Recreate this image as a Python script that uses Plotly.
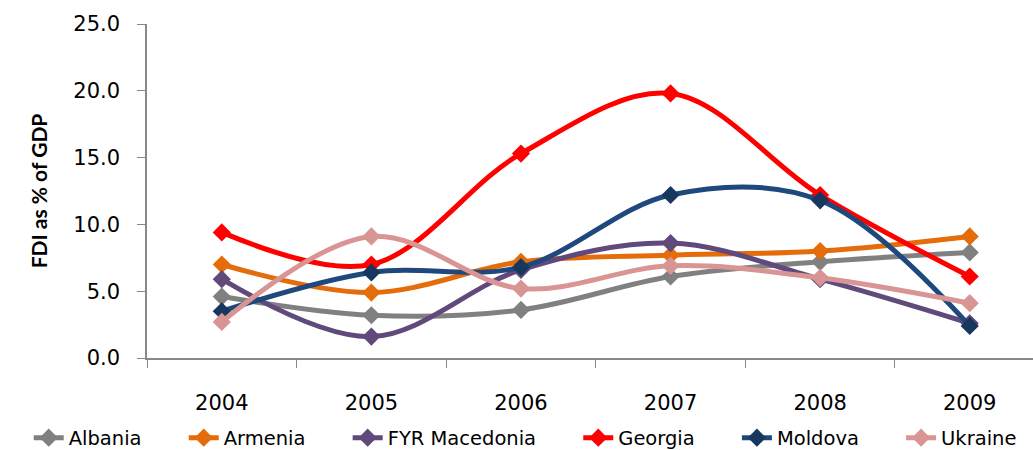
import plotly.graph_objects as go

years = ["2004", "2005", "2006", "2007", "2008", "2009"]

albania = [4.6, 3.2, 3.6, 6.1, 7.2, 7.9]
armenia = [7.0, 4.9, 7.2, 7.7, 8.0, 9.1]
macedonia = [5.9, 1.6, 6.6, 8.6, 5.9, 2.6]
georgia = [9.4, 7.0, 15.3, 19.8, 12.2, 6.1]
moldova = [3.5, 6.4, 6.8, 12.2, 11.8, 2.4]
ukraine = [2.7, 9.1, 5.2, 6.9, 6.0, 4.1]

series = [
    ("Albania", albania, "#808080", "#808080"),
    ("Armenia", armenia, "#E46C0A", "#E46C0A"),
    ("FYR Macedonia", macedonia, "#604A7B", "#604A7B"),
    ("Georgia", georgia, "#FF0000", "#FF0000"),
    ("Moldova", moldova, "#1F497D", "#17375E"),
    ("Ukraine", ukraine, "#D99594", "#D99594"),
]

TICK_FONT = "DejaVu Sans, sans-serif"
TITLE_FONT = "Lato, sans-serif"
PAD = "\u00a0" * 6  # spacing between legend entries

fig = go.Figure()
for i, (name, vals, lc, mc) in enumerate(series):
    label = name if i == len(series) - 1 else name + PAD
    fig.add_trace(go.Scatter(
        x=years, y=vals, name=label, mode="lines+markers",
        line=dict(color=lc, width=5, shape="spline", smoothing=1),
        marker=dict(symbol="diamond", size=14, color=mc),
    ))

fig.update_layout(
    width=1033, height=450,
    margin=dict(l=147, r=0, t=24, b=92, autoexpand=False),
    paper_bgcolor="white", plot_bgcolor="white",
    font=dict(family=TICK_FONT, size=21, color="#000000"),
    showlegend=True,
    legend=dict(
        orientation="h", x=-0.1335, xanchor="left", y=-0.2395, yanchor="middle",
        bgcolor="rgba(0,0,0,0)",
        font=dict(family=TICK_FONT, size=19.5), itemwidth=30, tracegroupgap=0,
    ),
    xaxis=dict(
        type="category", range=[-0.5, 5.423], automargin=False,
        showline=True, linecolor="#888888", linewidth=1.5,
        ticks="outside", tickson="boundaries", ticklen=8, tickcolor="#888888",
        showgrid=False, ticklabelstandoff=25,
        tickfont=dict(family=TICK_FONT, size=21),
    ),
    yaxis=dict(
        range=[0, 25], tickvals=[0, 5, 10, 15, 20, 25], tickformat=".1f",
        automargin=False,
        showline=True, linecolor="#888888", linewidth=1.5,
        ticks="outside", ticklen=8, tickcolor="#888888",
        showgrid=False, zeroline=False, ticklabelstandoff=13,
        tickfont=dict(family=TICK_FONT, size=21),
        title=dict(text="<b>FDI as % of GDP</b>",
                   font=dict(family=TITLE_FONT, size=21), standoff=20),
    ),
)

fig.write_html("out.html")
